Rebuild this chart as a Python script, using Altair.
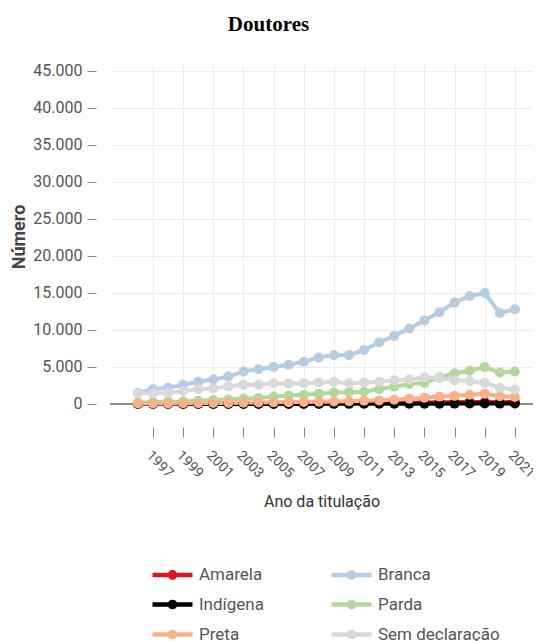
import altair as alt
import pandas as pd

years = list(range(1996, 2022))

amarela = [30, 35, 40, 45, 50, 55, 60, 65, 70, 75, 80, 90, 100, 110, 120, 130, 140, 160, 180, 200, 220, 240, 260, 280, 250, 260]
branca = [1500, 2000, 2200, 2600, 3000, 3300, 3700, 4400, 4700, 5000, 5300, 5700, 6300, 6600, 6600, 7300, 8300, 9200, 10200, 11300, 12400, 13700, 14600, 15000, 12300, 12800]
indigena = [0, 0, 0, 0, 5, 5, 5, 10, 10, 10, 10, 15, 15, 20, 20, 25, 30, 35, 40, 45, 50, 55, 60, 60, 55, 60]
parda = [200, 250, 300, 350, 450, 550, 600, 750, 800, 1000, 1150, 1250, 1400, 1550, 1600, 1650, 2000, 2350, 2700, 2850, 3600, 4150, 4500, 5000, 4250, 4400]
preta = [60, 70, 80, 100, 110, 130, 150, 170, 200, 220, 250, 270, 300, 330, 380, 430, 480, 580, 700, 850, 1000, 1100, 1250, 1400, 1050, 950]
sem_declaracao = [1450, 1450, 1500, 1750, 2000, 2100, 2350, 2600, 2600, 2800, 2750, 2800, 2900, 3000, 2800, 2900, 3000, 3200, 3300, 3600, 3500, 3200, 3100, 2850, 2200, 1950]

series_names = ["Amarela", "Branca", "Indígena", "Parda", "Preta", "Sem declaração"]
series_values = [amarela, branca, indigena, parda, preta, sem_declaracao]
series_colors = ["#d7191c", "#b3cde3", "#000000", "#b2d99b", "#f9b189", "#d9d9d9"]

tick_years = list(range(1997, 2022, 2))
y_ticks = list(range(0, 45001, 5000))

rows = []
for name, vals in zip(series_names, series_values):
    for yr, v in zip(years, vals):
        rows.append({"ano": yr, "numero": v, "cor": name})
df = pd.DataFrame(rows)
zero_df = pd.DataFrame({"numero": [0]})

FONT = "Roboto"
Y_DOMAIN = [-811, 46081]

x_enc = alt.X(
    "ano:Q",
    title="Ano da titulação",
    scale=alt.Scale(domain=[1994.15, 2022.2], nice=False, zero=False),
    axis=alt.Axis(
        values=tick_years, format="d", labelAngle=45, labelAlign="left",
        labelBaseline="top", labelPadding=11, labelFontSize=14, labelColor="#555",
        labelFont=FONT, labelFlush=False, labelOverlap=False,
        domain=False, tickSize=10, tickColor="#888", offset=17,
        grid=True, gridColor="#ececec",
        titleFont=FONT, titleFontSize=16, titleFontWeight="normal",
        titleColor="#333", titlePadding=13,
    ),
)
y_enc = alt.Y(
    "numero:Q",
    title="Número",
    scale=alt.Scale(domain=Y_DOMAIN, nice=False, zero=False),
    axis=alt.Axis(
        values=y_ticks,
        labelExpr="replace(format(datum.value, ','), ',', '.')",
        labelFontSize=16, labelColor="#555", labelFont=FONT, labelPadding=5,
        labelOverlap=False,
        domain=False, tickSize=9, tickColor="#888", offset=14,
        grid=True, gridColor="#ececec",
        titleFont=FONT, titleFontSize=18, titleFontWeight="bold",
        titleColor="#444", titlePadding=4,
    ),
)
color_scale = alt.Scale(domain=series_names, range=series_colors)

rule = alt.Chart(zero_df).mark_rule(color="#666", strokeWidth=1.5).encode(y=y_enc)

legend_path = "M-2,0H2M-0.26,0A0.26,0.26,0,1,1,0.26,0A0.26,0.26,0,1,1,-0.26,0Z"

legend = alt.Legend(
    title=None, orient="none", legendX=50, legendY=499,
    direction="horizontal",
    columns=2, columnPadding=57, rowPadding=5,
    symbolType=legend_path, symbolSize=400, symbolStrokeWidth=4.5,
    symbolOpacity=1,
    labelFont=FONT, labelFontSize=17, labelColor="#555", labelOffset=14,
    padding=0,
)

lines = alt.Chart(df).mark_line(strokeWidth=4).encode(
    x=x_enc, y=y_enc,
    color=alt.Color("cor:N", scale=color_scale, legend=legend),
    order=alt.Order("ano:Q"),
)

points = alt.Chart(df).mark_point(filled=True, size=100, opacity=1).encode(
    x=x_enc, y=y_enc,
    color=alt.Color("cor:N", scale=color_scale),
)

chart = alt.layer(rule, lines, points).properties(
    width=423, height=347,
    autosize=alt.AutoSizeParams(type="none"),
    padding={"left": 102, "top": 55, "right": 0, "bottom": 232},
    title=alt.TitleParams(
        "Doutores", font="Liberation Serif", fontSize=21, fontWeight="bold",
        color="#000", anchor="middle", frame="group", dx=-53, offset=28,
    ),
).configure_view(stroke=None)

chart.save("out.html", embed_options={"renderer": "svg", "actions": False})
